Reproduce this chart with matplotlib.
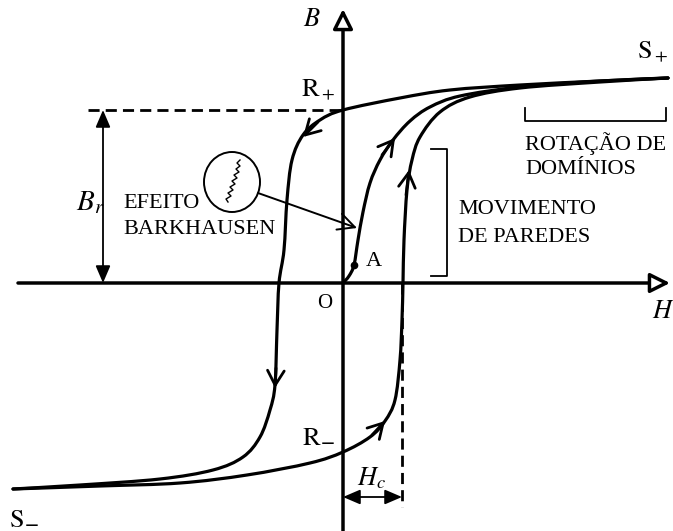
import numpy as np
import matplotlib
matplotlib.use("Agg")
import matplotlib.pyplot as plt
from matplotlib.path import Path
from matplotlib.patches import PathPatch, Ellipse

plt.rcParams['font.family'] = ['Liberation Serif', 'DejaVu Serif']
plt.rcParams['mathtext.fontset'] = 'stix'

# ---- curve points (H, B), origin at O ----
desc_H = [325, 257, 177, 107, 57, 0, -23, -40, -51, -56, -59, -64, -66, -68, -73, -83, -100, -130, -183, -263, -330]
desc_B = [205, 202, 198, 193, 185, 173, 163, 148, 123, 83, 33, 0, -47, -102, -127, -154, -174, -187, -196, -202, -206]

asc_H = [-330, -243, -163, -96, -33, 0, 27, 42, 52, 57, 59, 60, 61, 64, 69, 77, 97, 127, 177, 257, 325]
asc_B = [-206, -203, -200, -192, -180, -169, -154, -138, -117, -77, -37, 0, 43, 93, 123, 146, 171, 186, 195, 201, 205]

virgin_H = [0, 6, 11, 15, 20, 27, 37, 50, 67, 87, 117, 177, 257, 325]
virgin_B = [0, 7, 18, 43, 71, 100, 123, 143, 162, 176, 187, 196, 202, 205]

# Barkhausen jumps drawn in the loupe
jump_H = [-103, -106, -103, -107, -104, -109, -106, -111, -108, -113, -110, -115, -112, -117, -115]
jump_B = [123, 120, 117, 114, 111, 108, 105, 102, 99, 96, 93, 90, 87, 84, 81]

Br = 173      # remanence
Hc = 59       # coercive field
point_A = (11, 18)


def smooth_path(h, b):
    pts = np.column_stack([h, b]).astype(float)
    verts = [pts[0]]
    codes = [Path.MOVETO]
    n = len(pts)
    for i in range(n - 1):
        p0 = pts[i - 1] if i > 0 else pts[i]
        p1 = pts[i]
        p2 = pts[i + 1]
        p3 = pts[i + 2] if i + 2 < n else pts[i + 1]
        verts += [p1 + (p2 - p0) / 6, p2 - (p3 - p1) / 6, p2]
        codes += [Path.CURVE4] * 3
    return Path(verts, codes)


def curve_arrow(ax, tail, tip):
    ax.annotate("", xy=tip, xytext=tail,
                arrowprops=dict(arrowstyle='->,head_length=0.7,head_width=0.4',
                                lw=2.0, color='black', shrinkA=0, shrinkB=0,
                                mutation_scale=15))


fig = plt.figure(figsize=(6.73, 5.31), dpi=100)
ax = fig.add_axes([0, 0, 1, 1])
ax.set_xlim(-343, 330)
ax.set_ylim(-248, 283)
ax.axis('off')

# axes with open arrow heads
ax.annotate("", xy=(327, 0), xytext=(-325, 0),
            arrowprops=dict(arrowstyle='-|>,head_length=0.8,head_width=0.4', lw=2.5,
                            fc='white', ec='black', shrinkA=0, shrinkB=0, mutation_scale=15))
ax.annotate("", xy=(0, 274), xytext=(0, -248),
            arrowprops=dict(arrowstyle='-|>,head_length=0.8,head_width=0.4', lw=2.5,
                            fc='white', ec='black', shrinkA=0, shrinkB=0, mutation_scale=15))

# hysteresis curves
for h, b in [(desc_H, desc_B), (asc_H, asc_B), (virgin_H, virgin_B)]:
    ax.add_patch(PathPatch(smooth_path(h, b), fill=False, lw=2.3, ec='black',
                           capstyle='round', joinstyle='round'))

curve_arrow(ax, (-25, 161), (-40, 146))
curve_arrow(ax, (-67, -85), (-68, -105))
curve_arrow(ax, (29, -152), (42, -138))
curve_arrow(ax, (63, 88), (66, 113))
curve_arrow(ax, (39, 128), (52, 145))

# dashed guides
ax.plot([-255, 0], [Br, Br], color='black', lw=2.0, dashes=(4, 2.2))
ax.plot([Hc, Hc], [0, -224], color='black', lw=2.0, dashes=(4, 2.2))

# Br and Hc dimension arrows
ax.annotate("", xy=(-240, Br), xytext=(-240, 0),
            arrowprops=dict(arrowstyle='<|-|>,head_length=0.7,head_width=0.3', lw=1.3,
                            color='black', shrinkA=0, shrinkB=0, mutation_scale=15))
ax.annotate("", xy=(Hc, -214), xytext=(0, -214),
            arrowprops=dict(arrowstyle='<|-|>,head_length=0.7,head_width=0.3', lw=1.3,
                            color='black', shrinkA=0, shrinkB=0, mutation_scale=15))

# Barkhausen loupe
ax.add_patch(Ellipse((-111, 101), 56, 60, fill=False, lw=1.4, ec='black'))
ax.plot(jump_H, jump_B, color='black', lw=1.0)
ax.annotate("", xy=(14, 55), xytext=(-85, 90),
            arrowprops=dict(arrowstyle='->,head_length=0.8,head_width=0.4', lw=1.4,
                            color='black', shrinkA=0, shrinkB=0, mutation_scale=15))

ax.plot(*point_A, 'o', color='black', ms=4.5)

# brackets
ax.plot([88, 104, 104, 88], [134, 134, 7, 7], color='black', lw=1.3)
ax.plot([182, 182, 323, 323], [175, 162, 162, 175], color='black', lw=1.3)

# labels
ax.text(-31, 263, r'$B$', fontsize=19, ha='center', va='center')
ax.text(320, -29, r'$H$', fontsize=19, ha='center', va='center')
ax.text(-18, -20, 'O', fontsize=15, ha='center', va='center')
ax.text(-25, 193, r'$\mathrm{R}_+$', fontsize=19, ha='center', va='center')
ax.text(-25, -153, r'$\mathrm{R}_{\mathbf{-}}$', fontsize=19, ha='center', va='center')
ax.text(310, 231, r'$\mathrm{S}_+$', fontsize=19, ha='center', va='center')
ax.text(-319, -235, r'$\mathrm{S}_{\mathbf{-}}$', fontsize=19, ha='center', va='center')
ax.text(-253, 80, r'$B_r$', fontsize=21, ha='center', va='center')
ax.text(29, -195, r'$H_c$', fontsize=19, ha='center', va='center')
ax.text(31, 21, 'A', fontsize=16, ha='center', va='center')

ax.text(-220, 80, 'EFEITO', fontsize=16, ha='left', va='center')
ax.text(-220, 53, 'BARKHAUSEN', fontsize=16, ha='left', va='center')
ax.text(115, 73, 'MOVIMENTO', fontsize=16, ha='left', va='center')
ax.text(115, 46, 'DE PAREDES', fontsize=16, ha='left', va='center')
ax.text(182, 139, 'ROTAÇÃO DE', fontsize=16, ha='left', va='center')
ax.text(182, 113, 'DOMÍNIOS', fontsize=16, ha='left', va='center')

fig.savefig('out.png', dpi=100)
